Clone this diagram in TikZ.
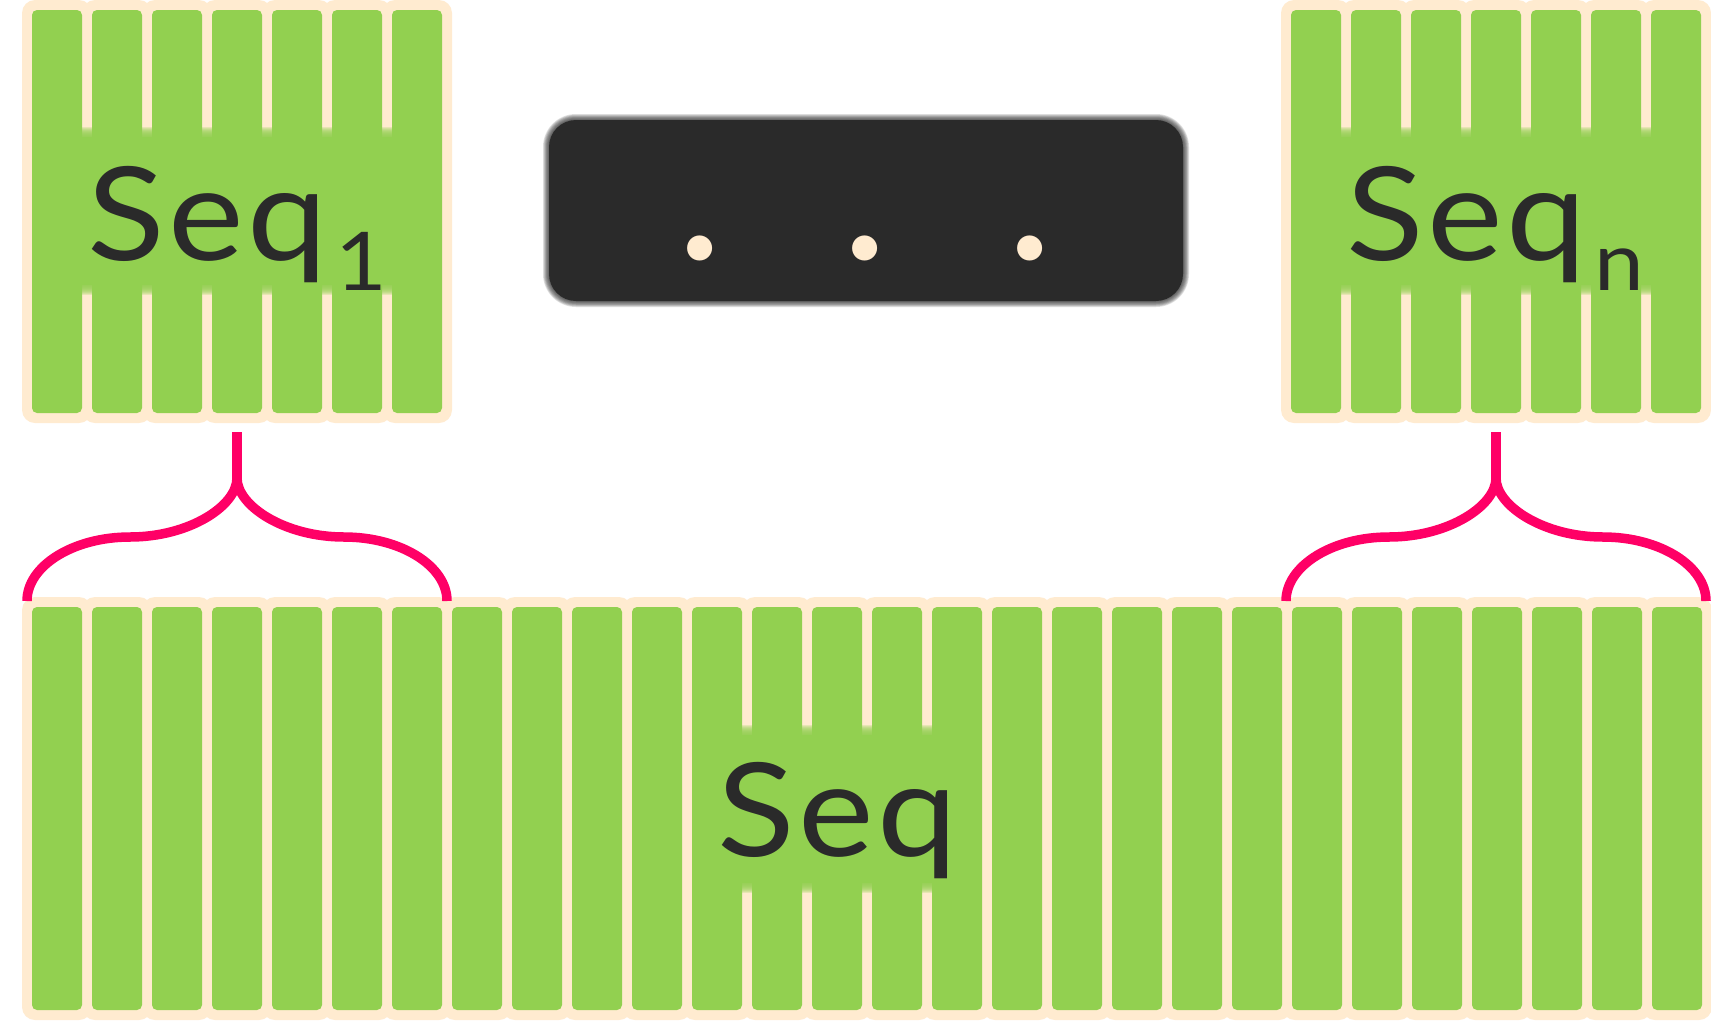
\documentclass[tikz,border=0pt]{standalone}
\usepackage{fontspec}
\setmainfont{Lato}[FakeStretch=1.1, LetterSpace=3]
\newfontfamily\dotfont{Lato}
\definecolor{cellgreen}{HTML}{92D050}
\definecolor{cream}{HTML}{FFEBD0}
\definecolor{bracepink}{HTML}{FF0066}
\definecolor{ink}{HTML}{2A2A2A}
\newcommand\cellrow[4]{% #1 first cell x, #2 last index, #3 top y, #4 bottom y
  \foreach \k in {0,...,#2} {\fill[cream, rounded corners=13] ({#1+60*\k-10},{#3-10}) rectangle ({#1+60*\k+60},{#4+10});}
  \foreach \k in {0,...,#2} {\fill[cellgreen, rounded corners=5] ({#1+60*\k},#3) rectangle ({#1+60*\k+50},#4);}
}
\newcommand\softband[4]{%
  \foreach \i in {0,...,9} {\fill[cellgreen, fill opacity=0.22] (#1,{#2+\i}) rectangle (#3,{#4-\i});}
  \fill[cellgreen] (#1,{#2+10}) rectangle (#3,{#4-10});
}
\newcommand\subsc[1]{\hspace{8pt}\raisebox{-30pt}{\fontsize{81}{81}\selectfont #1}}
\tikzset{
  seqlabel/.style={anchor=base west, inner sep=0, text=ink, font=\fontsize{130}{130}\selectfont},
  dotlabel/.style={anchor=base, inner sep=0, text=cream, font=\dotfont\fontsize{200}{200}\selectfont},
  bracestyle/.style={draw=bracepink, line width=9.5, line cap=butt}
}
\begin{document}
\begin{tikzpicture}[x=1pt,y=-1pt]
\useasboundingbox[fill=white] (0,0) rectangle (1711,1021);
% top blocks
\cellrow{32}{6}{10}{413}
\cellrow{1291}{6}{10}{413}
% bottom block
\cellrow{32}{27}{607}{1010}
% bands behind labels
\softband{72}{127}{402}{295}
\softband{1331}{127}{1661}{295}
\softband{702}{725}{970}{893}
% labels
\node[seqlabel] (seq1) at (87,260) {Seq\subsc{1}};
\node[seqlabel] (seqn) at (1346,260) {Seq\subsc{n}};
\node[seqlabel] (seq) at (717,856) {Seq};
% dark box
\foreach \i in {1,...,8} {\fill[ink, fill opacity=0.14, rounded corners={27+0.75*\i}] ({549-0.75*\i},{120-0.75*\i}) rectangle ({1183+0.75*\i},{301+0.75*\i});}
\fill[ink, rounded corners=27] (549,120) rectangle (1183,301);
\node[dotlabel] (dot1) at (700.5,259) {.};
\node[dotlabel] (dot2) at (865.5,259) {.};
\node[dotlabel] (dot3) at (1030.5,259) {.};
% braces
\coordinate (b1top) at (237,432);
\coordinate (b1tip) at (237,478);
\coordinate (b1l) at (27,601);
\coordinate (b1r) at (447,601);
\draw[bracestyle] (b1top) -- (b1tip);
\draw[bracestyle] (b1l) .. controls (27,566) and (73,537) .. (130,537) .. controls (189,537) and (237,506) .. (b1tip);
\draw[bracestyle] (b1tip) .. controls (237,506) and (285,537) .. (344,537) .. controls (401,537) and (447,566) .. (b1r);
\coordinate (bntop) at (1496,432);
\coordinate (bntip) at (1496,478);
\coordinate (bnl) at (1286,601);
\coordinate (bnr) at (1706,601);
\draw[bracestyle] (bntop) -- (bntip);
\draw[bracestyle] (bnl) .. controls (1286,566) and (1332,537) .. (1389,537) .. controls (1448,537) and (1496,506) .. (bntip);
\draw[bracestyle] (bntip) .. controls (1496,506) and (1544,537) .. (1603,537) .. controls (1660,537) and (1706,566) .. (bnr);
\end{tikzpicture}
\end{document}
